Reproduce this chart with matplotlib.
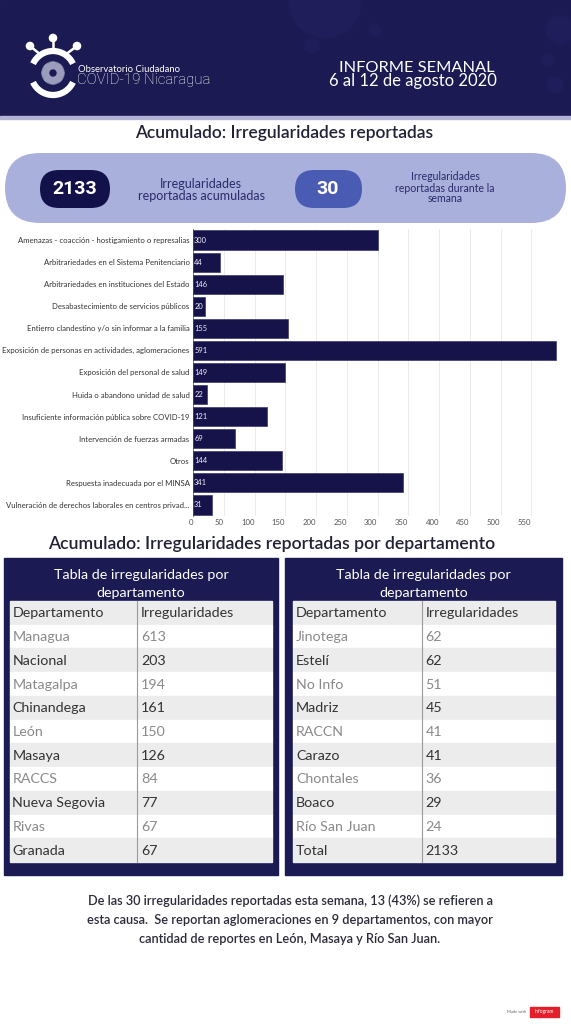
import math
import matplotlib.pyplot as plt
from matplotlib.patches import FancyBboxPatch, Rectangle, Circle, Arc

plt.rcParams['font.family'] = ['Lato', 'DejaVu Sans']

# datos
categorias = [
    'Amenazas - coacción - hostigamiento o represalias',
    'Arbitrariedades en el Sistema Penitenciario',
    'Arbitrariedades en instituciones del Estado',
    'Desabastecimiento de servicios públicos',
    'Entierro clandestino y/o sin informar a la familia',
    'Exposición de personas en actividades, aglomeraciones',
    'Exposición del personal de salud',
    'Huida o abandono unidad de salud',
    'Insuficiente información pública sobre COVID-19',
    'Intervención de fuerzas armadas',
    'Otros',
    'Respuesta inadecuada por el MINSA',
    'Vulneración de derechos laborales en centros privad...',
]
valores = [300, 44, 146, 20, 155, 591, 149, 22, 121, 69, 144, 341, 31]
x_ticks = [0, 50, 100, 150, 200, 250, 300, 350, 400, 450, 500, 550]

deptos_izq = ['Managua', 'Nacional', 'Matagalpa', 'Chinandega', 'León', 'Masaya',
              'RACCS', 'Nueva Segovia', 'Rivas', 'Granada']
irreg_izq = [613, 203, 194, 161, 150, 126, 84, 77, 67, 67]
deptos_der = ['Jinotega', 'Estelí', 'No Info', 'Madriz', 'RACCN', 'Carazo',
              'Chontales', 'Boaco', 'Río San Juan', 'Total']
irreg_der = [62, 62, 51, 45, 41, 41, 36, 29, 24, 2133]
encabezado = ['Departamento', 'Irregularidades']

total_acumulado = 2133
total_semana = 30

W, H = 571, 1024
navy = '#1b1a52'
bar_color = '#16134a'


def box(x0, y0, x1, y1):
    return [x0 / W, 1 - y1 / H, (x1 - x0) / W, (y1 - y0) / H]


fig = plt.figure(figsize=(W / 100, H / 100), dpi=100, facecolor='white')
bg = fig.add_axes([0, 0, 1, 1])
bg.set_xlim(0, W)
bg.set_ylim(H, 0)
bg.axis('off')

# header
bg.add_patch(Rectangle((0, 0), W, 117, color=navy, zorder=1))
bg.add_patch(Rectangle((0, 116), W, 3, color='#b3b3da', zorder=1))
for cx, cy, r in [(325, 2, 36), (312, 46, 7), (375, 30, 6), (560, 30, 14), (548, 60, 6), (555, 85, 8)]:
    bg.add_patch(Circle((cx, cy), r, color='#1f1e5b', zorder=1.5))

# logo
bg.add_patch(Arc((53, 73), 44, 44, theta1=25, theta2=155, color='white', lw=4.5, zorder=2))
bg.add_patch(Arc((53, 73), 44, 44, theta1=205, theta2=335, color='white', lw=4.5, zorder=2))
for (x0, y0), (x1, y1) in [((53, 51), (53, 38)), ((41, 55), (30, 46)), ((65, 55), (77, 46))]:
    bg.plot([x0, x1], [y0, y1], color='white', lw=1.8, zorder=2)
    bg.add_patch(Circle((x1, y1), 3.6, color='white', zorder=2))
bg.add_patch(Circle((53, 73), 11, color='#7f7fa3', zorder=2))
for k in range(8):
    a = k * math.pi / 4
    bg.add_patch(Circle((53 + 6.5 * math.cos(a), 73 + 6.5 * math.sin(a)), 4.2, color='#9c9cbc', zorder=2.1))
bg.add_patch(Circle((53, 73), 3, color=navy, zorder=2.2))
bg.text(78, 70, 'Observatorio Ciudadano', color='white', fontsize=6.8, va='center', ha='left', zorder=3)
bg.text(77, 80, 'COVID-19 Nicaragua', color='white', fontsize=10.8, va='center', ha='left',
        family=['Roboto', 'DejaVu Sans'], fontweight='light', zorder=3)
bg.text(417, 68, 'INFORME SEMANAL', color='white', fontsize=11.8, ha='center', va='center', zorder=3)
bg.text(413, 81, '6 al 12 de agosto 2020', color='white', fontsize=12, ha='center', va='center', zorder=3)

# titulo 1
bg.text(284, 133, 'Acumulado: Irregularidades reportadas', color='#222236', fontsize=12.5,
        ha='center', va='center', fontweight='semibold')

# pastilla de totales
bg.add_patch(FancyBboxPatch((5, 153), 561, 70, boxstyle='round,pad=0,rounding_size=35',
                            fc='#aab0dc', ec='none'))
bg.add_patch(FancyBboxPatch((40, 170), 70, 38, boxstyle='round,pad=0,rounding_size=19',
                            fc='#13114a', ec='none'))
bg.text(75, 189, str(total_acumulado), color='white', fontsize=14, fontweight='bold',
        ha='center', va='center', family=['Roboto', 'DejaVu Sans'])
bg.text(201, 190, 'Irregularidades\nreportadas acumuladas', color='#2a2a6a', fontsize=9,
        ha='center', va='center', linespacing=1.0)
bg.add_patch(FancyBboxPatch((295, 170), 67, 38, boxstyle='round,pad=0,rounding_size=19',
                            fc='#4a5bb4', ec='none'))
bg.text(328, 189, str(total_semana), color='white', fontsize=14, fontweight='bold',
        ha='center', va='center', family=['Roboto', 'DejaVu Sans'])
bg.text(445, 188, 'Irregularidades\nreportadas durante la\nsemana', color='#2a2a6a', fontsize=7.6,
        ha='center', va='center', linespacing=1.0)

# grafico de barras
ax = fig.add_axes(box(193, 229, 562, 516))
ax.patch.set_alpha(0)
pos = list(range(len(categorias)))
ax.barh(pos, valores, height=0.87, color=bar_color, edgecolor='#3a3870', linewidth=0.5, zorder=3)
for i, v in enumerate(valores):
    ax.text(2, i, str(v), color='#eeeefa', fontsize=5.4, va='center', ha='left', zorder=4)
ax.set_ylim(len(categorias) - 0.5, -0.5)
ax.set_xlim(0, 600)
ax.set_yticks(pos)
ax.set_yticklabels(categorias, fontsize=5.6, color='#333333')
ax.set_xticks(x_ticks)
ax.set_xticklabels([str(t) for t in x_ticks], fontsize=5.6, color='#555555', ha='right')
ax.tick_params(axis='both', length=0, pad=2.5)
ax.grid(axis='x', color='#e8e8e8', lw=0.6)
ax.set_axisbelow(True)
for s in ['top', 'right', 'bottom']:
    ax.spines[s].set_visible(False)
ax.spines['left'].set_color('#777777')
ax.spines['left'].set_linewidth(0.7)

# titulo 2
bg.text(272, 544, 'Acumulado: Irregularidades reportadas por departamento', color='#222236',
        fontsize=12.7, ha='center', va='center', fontweight='semibold')


def tabla(x0, x1, xdiv, px0, px1, deptos, vals):
    top, bottom = 601, 862
    rh = (bottom - top) / (len(deptos) + 1)
    bg.add_patch(Rectangle((px0, 558), px1 - px0, 317, color=navy, zorder=1))
    bg.text((px0 + px1) / 2, 575, 'Tabla de irregularidades por', color='white', fontsize=10.3,
            ha='center', va='center', zorder=3)
    bg.text((px0 + px1) / 2, 593, 'departamento', color='white', fontsize=10.3,
            ha='center', va='center', zorder=3)
    filas = [encabezado] + [[d, str(v)] for d, v in zip(deptos, vals)]
    for i, (d, v) in enumerate(filas):
        y = top + i * rh
        gris = (i % 2 == 0)
        bg.add_patch(Rectangle((x0, y), x1 - x0, rh, color='#ececec' if gris else 'white', zorder=2))
        c = '#333333' if gris else '#8a8a8a'
        bg.text(x0 + 3, y + rh / 2 + 0.5, d, color=c, fontsize=10.3, va='center', ha='left', zorder=3)
        bg.text(xdiv + 4, y + rh / 2 + 0.5, v, color=c, fontsize=10.3, va='center', ha='left', zorder=3)
    bg.plot([xdiv, xdiv], [top, bottom], color='#9a9a9a', lw=0.8, zorder=3)


tabla(9.5, 271.5, 137, 4, 278, deptos_izq, irreg_izq)
tabla(293, 555, 421.7, 285, 562, deptos_der, irreg_der)

# texto final
nota = ['De las 30 irregularidades reportadas esta semana, 13 (43%) se refieren a',
        'esta causa.  Se reportan aglomeraciones en 9 departamentos, con mayor',
        'cantidad de reportes en León, Masaya y Río San Juan.']
for k, linea in enumerate(nota):
    bg.text(290, 901 + k * 19, linea, color='#2b2b3b', fontsize=9.2, ha='center', va='center',
            fontweight='semibold')

bg.text(526, 1012, 'Made with', color='#666666', fontsize=3, ha='right', va='center')
bg.add_patch(Rectangle((530, 1007), 29, 10, color='#e3202a'))
bg.text(544.5, 1012, 'infogram', color='white', fontsize=3.5, ha='center', va='center')

fig.savefig('out.png', dpi=100, facecolor='white')
